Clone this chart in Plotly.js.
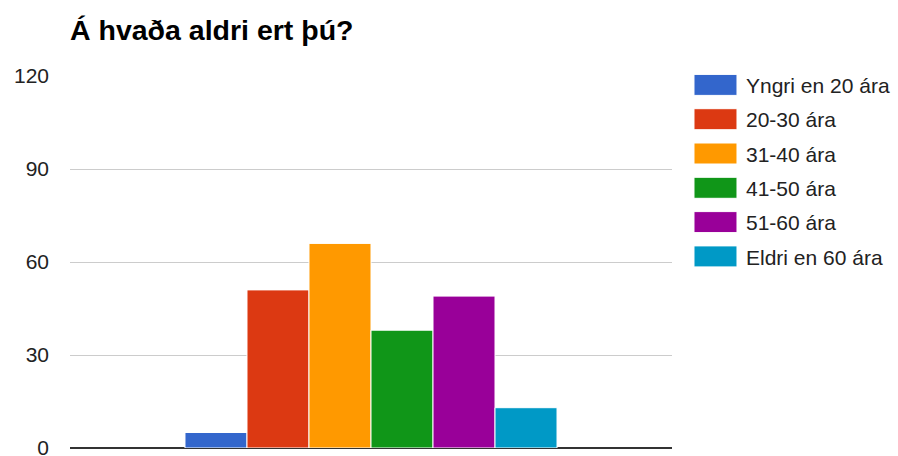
<!DOCTYPE html>
<html>
<head>
<meta charset="utf-8">
<script src="https://cdn.plot.ly/plotly-3.0.1.min.js"></script>
<style>
  html, body { margin: 0; padding: 0; background: #fff; }
  #chart { width: 898px; height: 456px; }
</style>
</head>
<body>
<div id="chart"></div>
<script>
// ── Data ──────────────────────────────────────────────────────────────────
const AGE_GROUPS = ['Yngri en 20 ára', '20-30 ára', '31-40 ára', '41-50 ára', '51-60 ára', 'Eldri en 60 ára'];
const COUNTS = [5, 51, 66, 38, 49, 13];
const COLORS = ['#3366cc', '#dc3912', '#ff9900', '#109618', '#990099', '#0099c6'];
const Y_TICKS = [0, 30, 60, 90, 120];

const FONT = 'Arial, "Liberation Sans", sans-serif';

const traces = AGE_GROUPS.map((name, i) => ({
  x: ['Aldur'], y: [COUNTS[i]],
  type: 'bar',
  name,
  legendgroup: 'g' + i,
  marker: { color: COLORS[i], line: { color: '#ffffff', width: 1 } },
  hovertemplate: name + ': %{y}<extra></extra>',
}));

const layout = {
  width: 898, height: 456,
  margin: { l: 70, r: 226, t: 76, b: 8, pad: 0 },
  paper_bgcolor: '#ffffff', plot_bgcolor: '#ffffff',
  font: { family: FONT, size: 21, color: '#222222' },
  title: {
    text: 'Á hvaða aldri ert þú?',
    font: { family: FONT, size: 28.5, color: '#000000', weight: 'bold' },
    x: 0, xref: 'paper', xanchor: 'left',
    y: 0.935, yref: 'container', yanchor: 'middle',
  },
  barmode: 'group',
  bargap: 0.382,
  bargroupgap: 0,
  showlegend: true,
  legend: {
    xref: 'container', x: 0.7717, xanchor: 'left',
    yref: 'container', y: 0.858, yanchor: 'top',
    font: { family: FONT, size: 21, color: '#222222' },
    traceorder: 'grouped', tracegroupgap: 4,
    itemwidth: 43, bgcolor: 'rgba(0,0,0,0)',
  },
  xaxis: {
    type: 'category', showticklabels: false, ticks: '',
    showgrid: false, zeroline: false, showline: false, fixedrange: true,
  },
  yaxis: {
    range: [0, 120], tickvals: Y_TICKS, ticktext: Y_TICKS.map(String),
    showgrid: true, gridcolor: '#cccccc', gridwidth: 1,
    zeroline: true, zerolinecolor: '#333333', zerolinewidth: 1.5,
    showline: false, ticks: '', ticklabelstandoff: 20,
    ticklabeloverflow: 'allow',
    tickfont: { family: FONT, size: 21, color: '#222222' },
    fixedrange: true,
  },
};

const div = document.getElementById('chart');
Plotly.newPlot(div, traces, layout, { displayModeBar: false, staticPlot: true }).then(() => {
  // Google-style wide legend swatches
  div.querySelectorAll('.legend .legendpoints path').forEach(p => {
    p.setAttribute('d', 'M17.5,10.5H-25.5V-10.5H17.5Z');
  });
});
</script>
</body>
</html>
